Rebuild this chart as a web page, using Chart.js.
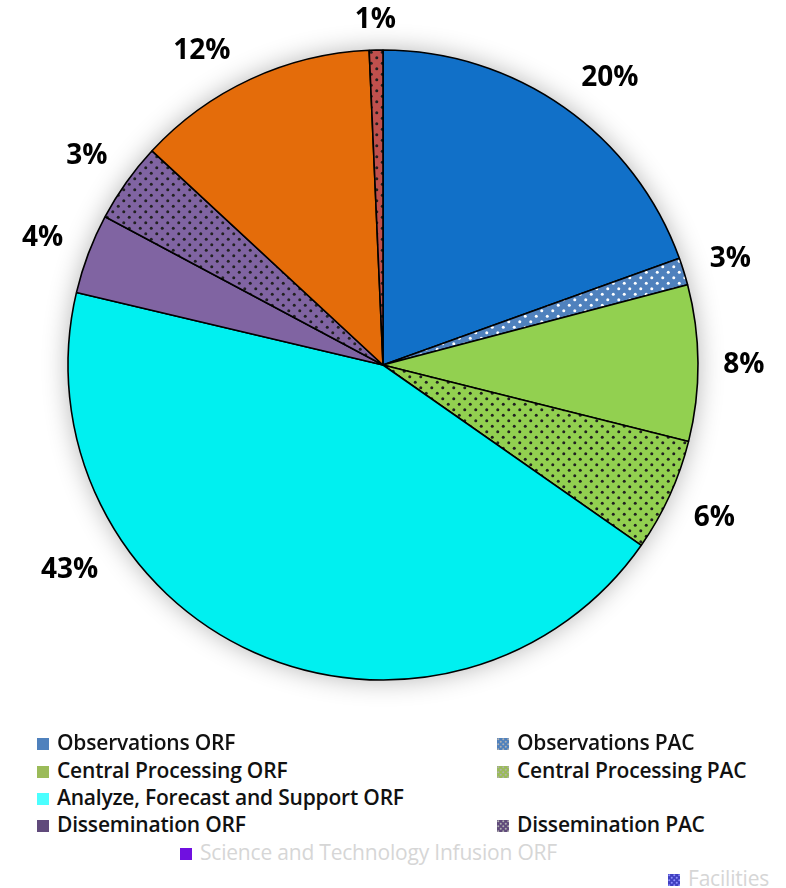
<!DOCTYPE html>
<html>
<head>
<meta charset="utf-8">
<script src="https://cdn.jsdelivr.net/npm/chart.js@4"></script>
<style>
  body { margin: 0; background: #fff; width: 786px; height: 888px; overflow: hidden; font-family: 'Open Sans', sans-serif; }
  #wrap { position: absolute; left: 0; top: 0; width: 786px; height: 730px; }
  .leg { position: absolute; font-size: 21px; font-weight: 600; color: #111; white-space: nowrap; line-height: 24px; letter-spacing: -0.2px; }
  .leg i { display: inline-block; width: 12px; height: 12px; margin-right: 8px; vertical-align: 0px; }
  .leg.faded { color: #d6d6d6; font-weight: 400; }
</style>
</head>
<body>
<div id="wrap"><canvas id="pie"></canvas></div>
<div id="legend"></div>
<script>
/* ── datos ──────────────────────────────────────────────────── */
const categorias = [
  'Observations ORF', 'Observations PAC', 'Central Processing ORF', 'Central Processing PAC',
  'Analyze, Forecast and Support ORF', 'Dissemination ORF', 'Dissemination PAC',
  'Science and Technology Infusion ORF', 'Facilities'
];
const valores     = [19.5, 1.4, 8.0, 5.8, 44.0, 4.1, 4.1, 12.4, 0.7];
const etiquetas   = ['20%', '3%', '8%', '6%', '43%', '4%', '3%', '12%', '1%'];
const coloresPie  = ['#1170c8', '#4f81bd', '#92d050', '#92d050', '#00f0f0', '#8064a2', '#8064a2', '#e46c0a', '#c0504d'];
const puntos      = [null, '#ffffff', null, '#202020', null, null, '#202020', null, '#202020'];
const coloresLeg  = ['#4f81bd', '#4f81bd', '#9bbb59', '#9bbb59', '#4bffff', '#604a7b', '#604a7b', '#7010e0', '#4040c0'];
const desvio      = [3, 0, 0, 0, 33, 0, 0, -5, 0];   // grados, ajuste de posición de etiqueta

/* ── patrón de puntos ───────────────────────────────────────── */
function patron(base, dot, s, rad) {
  const c = document.createElement('canvas');
  c.width = c.height = s;
  const x = c.getContext('2d');
  x.fillStyle = base; x.fillRect(0, 0, s, s);
  if (dot) {
    x.fillStyle = dot;
    [[s * 0.25, s * 0.25], [s * 0.75, s * 0.75]].forEach(([px, py]) => {
      x.beginPath(); x.arc(px, py, rad, 0, Math.PI * 2); x.fill();
    });
  }
  return c;
}

const ctx = document.getElementById('pie').getContext('2d');
const rellenos = coloresPie.map((c, i) => puntos[i] ? ctx.createPattern(patron(c, puntos[i], 11, 1.5), 'repeat') : c);

/* sombra suave alrededor del pastel */
const sombra = {
  id: 'sombra',
  beforeDatasetsDraw(chart) {
    const a = chart.getDatasetMeta(0).data[0];
    if (!a) return;
    const c = chart.ctx;
    c.save();
    c.shadowColor = 'rgba(0,0,0,0.3)';
    c.shadowBlur = 26;
    c.fillStyle = '#fff';
    c.beginPath(); c.arc(a.x, a.y, a.outerRadius, 0, Math.PI * 2); c.fill();
    c.restore();
  }
};

/* etiquetas de porcentaje fuera del pastel */
const porcentajes = {
  id: 'porcentajes',
  afterDatasetsDraw(chart) {
    const c = chart.ctx;
    c.save();
    c.font = 'bold 28px "Open Sans"';
    c.fillStyle = '#000';
    c.textAlign = 'center';
    c.textBaseline = 'middle';
    chart.getDatasetMeta(0).data.forEach((arc, i) => {
      const ang = (arc.startAngle + arc.endAngle) / 2 + desvio[i] * Math.PI / 180;
      const hw = c.measureText(etiquetas[i]).width / 2, hh = 14;
      const ext = hw * Math.abs(Math.cos(ang)) * 1.4 + hh * Math.abs(Math.sin(ang));
      const r = arc.outerRadius + 17 + ext;
      c.fillText(etiquetas[i], arc.x + Math.cos(ang) * r, arc.y + Math.sin(ang) * r + 2);
    });
    c.restore();
  }
};

new Chart(ctx, {
  type: 'pie',
  data: {
    labels: categorias,
    datasets: [{
      data: valores,
      backgroundColor: rellenos,
      borderColor: '#000',
      borderWidth: 1.6,
      hoverOffset: 0,
    }]
  },
  options: {
    responsive: true,
    maintainAspectRatio: false,
    animation: false,
    radius: 315,
    layout: { padding: { left: 0, right: 20, top: 0, bottom: 0 } },
    plugins: { legend: { display: false }, tooltip: { enabled: false } }
  },
  plugins: [sombra, porcentajes]
});

/* ── leyenda HTML ───────────────────────────────────────────── */
const posLeyenda = [[37, 730], [497, 730], [37, 758], [497, 758], [37, 785], null, [37, 812], [497, 812], [180, 840], [668, 866]];
const legendEl = document.getElementById('legend');
let k = 0;
posLeyenda.forEach(p => {
  if (!p) return;
  const i = k++;
  const d = document.createElement('div');
  d.className = 'leg' + (i >= 7 ? ' faded' : '');
  d.style.left = p[0] + 'px';
  d.style.top = p[1] + 'px';
  const sw = document.createElement('i');
  if (puntos[i] || i === 8) {
    sw.style.backgroundImage = `url(${patron(coloresLeg[i], i === 8 ? '#9090ff' : '#b0b0b0', 5, 1).toDataURL()})`;
  } else {
    sw.style.background = coloresLeg[i];
  }
  d.appendChild(sw);
  d.appendChild(document.createTextNode(categorias[i]));
  legendEl.appendChild(d);
});
</script>
</body>
</html>
